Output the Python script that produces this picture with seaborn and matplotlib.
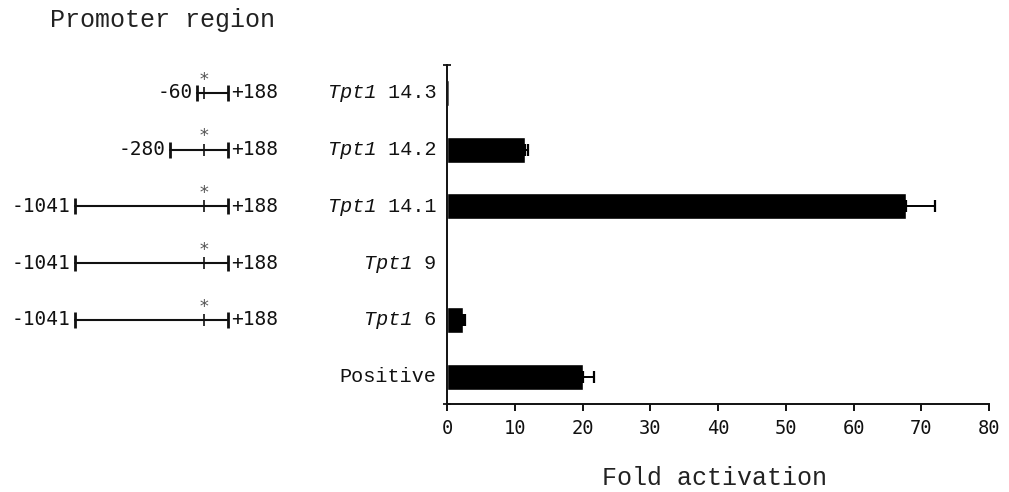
import matplotlib
matplotlib.use("Agg")
import matplotlib.pyplot as plt
import seaborn as sns
import pandas as pd
import numpy as np

# ---- data ----
construct_gene = ["Tpt1", "Tpt1", "Tpt1", "Tpt1", "Tpt1", ""]
construct_id = ["14.3", "14.2", "14.1", "9", "6", "Positive"]
fold_activation = [0.3, 11.5, 67.8, 0.0, 2.3, 20.1]
fold_error = [0.0, 0.5, 4.3, 0.0, 0.4, 1.6]
promoter_start = [-60, -280, -1041, -1041, -1041, None]
promoter_end = 188
site_position = -5
x_ticks = [0, 10, 20, 30, 40, 50, 60, 70, 80]

sns.set_style("ticks")
plt.rcParams["font.family"] = ["Liberation Mono", "DejaVu Sans Mono"]

labels = [(g + " " + c).strip() for g, c in zip(construct_gene, construct_id)]
df = pd.DataFrame({"construct": labels, "fold": fold_activation, "err": fold_error})

W, H = 1009, 492
fig = plt.figure(figsize=(W / 100, H / 100), dpi=100)
bottom = (H - 404) / H
top = (H - 65) / H
left = 447 / W
right = 989 / W
ax = fig.add_axes([left, bottom, right - left, top - bottom])

sns.barplot(data=df, y="construct", x="fold", orient="h", color="black",
            width=0.46, ax=ax, order=labels, errorbar=None, saturation=1)
pos = np.arange(len(labels))
mask = df["err"].values > 0
ax.errorbar(df["fold"].values[mask], pos[mask],
            xerr=[np.zeros(mask.sum()), df["err"].values[mask]],
            fmt="none", ecolor="black", elinewidth=1.4, capsize=4.5, capthick=1.6)

ax.set_xlim(0, 80)
ax.set_ylim(len(labels) - 0.52, -0.49)
ax.set_xticks(x_ticks)
ax.set_xticklabels([str(t) for t in x_ticks], fontfamily="DejaVu Sans Mono", fontsize=13.5)
ax.tick_params(axis="x", direction="out", length=5, width=1.4, pad=6, colors="#111111")
ax.set_yticks(pos)
ax.set_yticklabels([""] * len(labels))
ax.tick_params(axis="y", length=0)
ax.set_yticks([len(labels) - 0.52, -0.49], minor=True)
ax.tick_params(axis="y", which="minor", direction="inout", length=6, width=1.4)
for s in ["top", "right"]:
    ax.spines[s].set_visible(False)
for s in ["left", "bottom"]:
    ax.spines[s].set_linewidth(1.4)
    ax.spines[s].set_color("#111111")
ax.set_ylabel("")
ax.set_xlabel("")

# category labels: italic gene name + regular identifier
fs_lab = 14.5
char_w = 0.6 * fs_lab
pad = -7.5
ytr = ax.get_yaxis_transform()
for i, (g, c) in enumerate(zip(construct_gene, construct_id)):
    tail = (" " + c) if g else c
    ax.annotate(tail, (0, i), xycoords=ytr, xytext=(pad, 0), textcoords="offset points",
                ha="right", va="center", fontsize=fs_lab, color="#111111",
                annotation_clip=False)
    if g:
        ax.annotate(g, (0, i), xycoords=ytr, xytext=(pad - len(tail) * char_w, 0),
                    textcoords="offset points", ha="right", va="center",
                    fontsize=fs_lab, style="italic", color="#111111",
                    annotation_clip=False)

# ---- promoter map ----
axm = fig.add_axes([75 / W, bottom, (228 - 75) / W, top - bottom])
axm.set_ylim(ax.get_ylim())
axm.set_xlim(-1041, promoter_end)
axm.axis("off")
for i, st in enumerate(promoter_start):
    if st is None:
        continue
    axm.plot([st, promoter_end], [i, i], color="#111111", lw=1.5, clip_on=False)
    axm.plot([st, promoter_end], [i, i], ls="none", marker="|", ms=12, mew=2,
             color="#111111", clip_on=False)
    axm.plot([site_position], [i], ls="none", marker="|", ms=8, mew=1.2,
             color="#111111", clip_on=False)
    axm.annotate("*", (site_position, i), xytext=(0, 3), textcoords="offset points",
                 ha="center", va="bottom", fontsize=13, color="#555555",
                 fontfamily="DejaVu Sans Mono", annotation_clip=False)
    axm.annotate(f"{st}", (st, i), xytext=(-3, 0), textcoords="offset points",
                 ha="right", va="center", fontsize=14, color="#111111",
                 fontfamily="DejaVu Sans Mono", annotation_clip=False)
    axm.annotate(f"+{promoter_end}", (promoter_end, i), xytext=(2, 0),
                 textcoords="offset points", ha="left", va="center", fontsize=14,
                 color="#111111", fontfamily="DejaVu Sans Mono", annotation_clip=False)

fig.text(50 / W, 1 - 20 / H, "Promoter region", fontsize=18, ha="left", va="center",
         color="#222222")
fig.text(602 / W, 1 - 478 / H, "Fold activation", fontsize=18, ha="left", va="center",
         color="#222222")

fig.savefig("out.png", dpi=100)
